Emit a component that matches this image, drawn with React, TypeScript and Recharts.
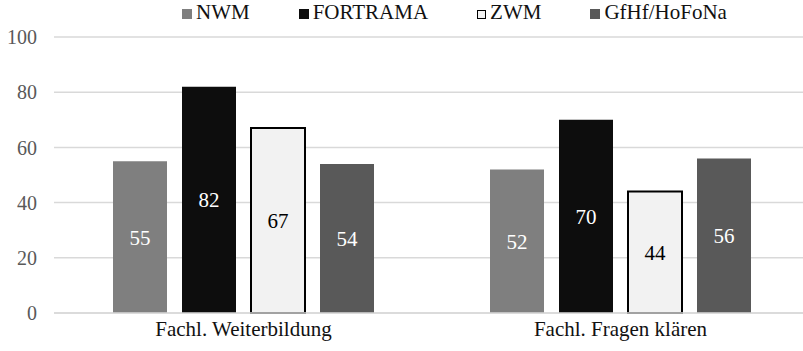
import React from 'react';
import { BarChart, Bar, XAxis, YAxis, CartesianGrid, Legend, LabelList } from 'recharts';

const categories = ['Fachl. Weiterbildung', 'Fachl. Fragen klären'];
const nwm = [55, 52];
const fortrama = [82, 70];
const zwm = [67, 44];
const gfhf = [54, 56];
const yTicks = [0, 20, 40, 60, 80, 100];

const seriesInfo = [
  { key: 'NWM', fill: '#7f7f7f', stroke: 'none', label: '#ffffff' },
  { key: 'FORTRAMA', fill: '#0d0d0d', stroke: 'none', label: '#ffffff' },
  { key: 'ZWM', fill: '#f2f2f2', stroke: '#000000', label: '#000000' },
  { key: 'GfHf/HoFoNa', fill: '#595959', stroke: 'none', label: '#ffffff' },
];

const data = categories.map((name, i) => ({
  name,
  NWM: nwm[i],
  FORTRAMA: fortrama[i],
  ZWM: zwm[i],
  'GfHf/HoFoNa': gfhf[i],
}));

const FONT = 'Liberation Serif';

// legend has zero height so the plot area keeps its own top margin
const renderLegend = () => (
  <div style={{ height: 0, position: 'relative', overflow: 'visible' }}>
    <div
      style={{
        position: 'absolute',
        top: 0,
        left: 0,
        display: 'flex',
        paddingLeft: 182,
        paddingTop: 2,
        fontFamily: FONT,
        fontSize: 21,
        lineHeight: '21px',
        color: '#111111',
      }}
    >
      {seriesInfo.map((s) => (
        <div key={s.key} style={{ marginRight: 49, whiteSpace: 'nowrap' }}>
          <span
            style={{
              display: 'inline-block',
              width: s.stroke === 'none' ? 10 : 7,
              height: s.stroke === 'none' ? 10 : 7,
              background: s.fill,
              border: s.stroke === 'none' ? 'none' : `1.5px solid ${s.stroke}`,
              marginRight: 4,
              verticalAlign: 'baseline',
            }}
          />
          {s.key}
        </div>
      ))}
    </div>
  </div>
);

const App: React.FC = () => {
  return (
    <div
      style={{
        position: 'absolute',
        left: 0,
        top: 0,
        width: 803,
        height: 351,
        background: '#fff',
        fontFamily: FONT,
      }}
    >
      <BarChart
        width={803}
        height={351}
        data={data}
        margin={{ top: 37, right: 0, bottom: 8, left: 0 }}
        barSize={54}
        barGap={15}
        style={{ fontFamily: FONT }}
      >
        <CartesianGrid vertical={false} stroke="#d9d9d9" strokeWidth={1.5} />
        <XAxis
          dataKey="name"
          height={30}
          padding={{ left: 1, right: -6 }}
          axisLine={{ stroke: '#d9d9d9', strokeWidth: 1.5 }}
          tickLine={false}
          tickMargin={2}
          tick={{ fill: '#111111', fontSize: 21, fontFamily: FONT }}
        />
        <YAxis
          width={54}
          domain={[0, 100]}
          ticks={yTicks}
          axisLine={false}
          tickLine={false}
          tickMargin={11}
          tick={{ fill: '#595959', fontSize: 20, fontFamily: FONT }}
        />
        <Legend
          verticalAlign="top"
          wrapperStyle={{ top: 0, left: 0, width: 803 }}
          content={renderLegend}
        />
        {seriesInfo.map((s) => (
          <Bar
            key={s.key}
            dataKey={s.key}
            fill={s.fill}
            stroke={s.stroke}
            strokeWidth={s.stroke === 'none' ? 0 : 2}
            isAnimationActive={false}
          >
            <LabelList
              dataKey={s.key}
              position="center"
              fill={s.label}
              fontSize={21}
              fontFamily={FONT}
            />
          </Bar>
        ))}
      </BarChart>
    </div>
  );
};

export default App;
